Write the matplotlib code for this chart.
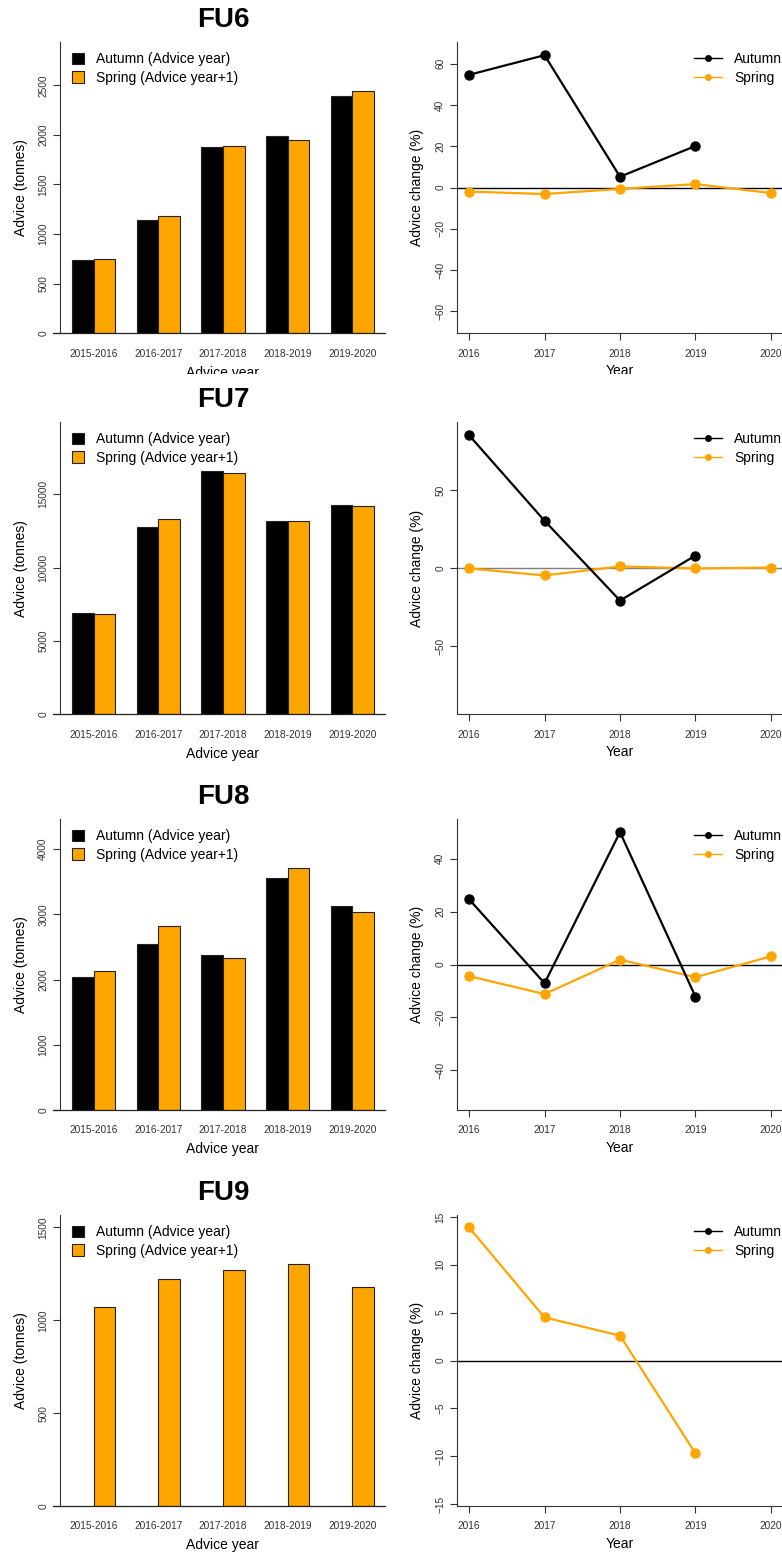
"""Advice by functional unit: autumn vs spring advice and percent change."""

import numpy as np
import matplotlib
matplotlib.use("Agg")
import matplotlib.pyplot as plt
from matplotlib.patches import Patch, Rectangle
from matplotlib.lines import Line2D

plt.rcParams["font.family"] = ["Liberation Sans", "DejaVu Sans"]

ORANGE = "#FFA500"
nan = np.nan

advice_years = ["2015-2016", "2016-2017", "2017-2018", "2018-2019", "2019-2020"]
change_years = [2016, 2017, 2018, 2019, 2020]
units = ["FU6", "FU7", "FU8", "FU9"]

fu6_autumn = [735, 1144, 1883, 1990, 2390]
fu6_spring = [751, 1181, 1886, 1950, 2447]
fu6_autumn_chg = [54.7, 64.2, 5.3, 20.2, nan]
fu6_spring_chg = [-1.9, -3.1, -0.6, 1.7, -2.6]

fu7_autumn = [6880, 12760, 16594, 13168, 14258]
fu7_spring = [6812, 13283, 16417, 13150, 14190]
fu7_autumn_chg = [85.3, 30.4, -20.8, 8.1, nan]
fu7_spring_chg = [-0.2, -4.7, 1.1, -0.2, 0.4]

fu8_autumn = [2038, 2539, 2371, 3561, 3132]
fu8_spring = [2125, 2820, 2330, 3719, 3035]
fu8_autumn_chg = [24.7, -7.1, 50.1, -12.2, nan]
fu8_spring_chg = [-4.4, -11.2, 1.8, -4.8, 3.1]

fu9_autumn = [nan, nan, nan, nan, nan]
fu9_spring = [1071, 1221, 1273, 1306, 1178]
fu9_autumn_chg = [nan, nan, nan, nan, nan]
fu9_spring_chg = [13.9, 4.5, 2.6, -9.7, nan]

bar_ticks = [500, 5000, 1000, 500]
chg_lim = [70.6, 93.8, 55.1, 15.2]
chg_ticks = [20, 50, 20, 5]
zero_color = ["black", "#808080", "black", "black"]

panels = [
    (fu6_autumn, fu6_spring, fu6_autumn_chg, fu6_spring_chg),
    (fu7_autumn, fu7_spring, fu7_autumn_chg, fu7_spring_chg),
    (fu8_autumn, fu8_spring, fu8_autumn_chg, fu8_spring_chg),
    (fu9_autumn, fu9_spring, fu9_autumn_chg, fu9_spring_chg),
]

# pixel layout of the stacked panels
W, H = 782, 1555
row_top = [42, 422, 819, 1215]
row_bot = [333.3, 714.3, 1110, 1506]

fig = plt.figure(figsize=(W / 100, H / 100), dpi=100)


def px_axes(x0, y0, x1, y1):
    return fig.add_axes([x0 / W, 1 - y1 / H, (x1 - x0) / W, (y1 - y0) / H])


def style_axis(ax):
    for side in ["top", "right"]:
        ax.spines[side].set_visible(False)
    for side in ["left", "bottom"]:
        ax.spines[side].set_linewidth(0.8)
        ax.spines[side].set_color("#333333")
    ax.tick_params(axis="both", labelsize=7.3, colors="#333333", width=0.8, length=5)
    ax.tick_params(axis="y", labelrotation=90)
    for lab in ax.get_yticklabels():
        lab.set_va("center")


for i, (unit, (autumn, spring, autumn_chg, spring_chg)) in enumerate(zip(units, panels)):
    top, bot = row_top[i], row_bot[i]

    # bar chart
    ax = px_axes(60, top, 386, bot)
    x = np.arange(len(advice_years)) * 3
    ax.bar(x + 1.5, autumn, width=1, color="black", edgecolor="#222222", linewidth=0.8)
    ax.bar(x + 2.5, spring, width=1, color=ORANGE, edgecolor="#222222", linewidth=0.8)
    ax.set_xlim(0.44, 15.56)
    top_val = np.nanmax(np.concatenate([autumn, spring])) * 1.2
    ax.set_ylim(0, top_val)
    ax.set_yticks(np.arange(0, top_val, bar_ticks[i]))
    ax.set_xticks(x + 2)
    ax.set_xticklabels(advice_years)
    style_axis(ax)
    ax.tick_params(axis="x", length=0, pad=11)
    ax.spines["bottom"].set_visible(False)
    ax.axhline(0, xmin=-7 / 326, xmax=325 / 326, color="#222222", linewidth=0.9, clip_on=False)
    ax.set_ylabel("Advice (tonnes)", fontsize=10, labelpad=7)
    ax.set_xlabel("Advice year", fontsize=10, labelpad=5)
    ax.legend(
        handles=[
            Patch(facecolor="black", edgecolor="#222222", linewidth=0.8, label="Autumn (Advice year)"),
            Patch(facecolor=ORANGE, edgecolor="#222222", linewidth=0.8, label="Spring (Advice year+1)"),
        ],
        loc="upper left", bbox_to_anchor=(0.02, 0.985), frameon=False, fontsize=10,
        handlelength=0.85, handleheight=0.85, handletextpad=0.9, labelspacing=0.35,
        borderaxespad=0,
    )
    fig.text(223 / W, 1 - (top - 22) / H, unit, fontsize=20, fontweight="bold",
             ha="center", va="center")

    # change chart
    ax2 = px_axes(457, top, 783, bot)
    ax2.axhline(0, color=zero_color[i], linewidth=1.0, zorder=1)
    ax2.plot(change_years, autumn_chg, color="black", linewidth=1.6, marker="o",
             markersize=6.5, zorder=3)
    ax2.plot(change_years, spring_chg, color=ORANGE, linewidth=1.6, marker="o",
             markersize=6.5, zorder=2)
    ax2.set_xlim(2015.84, 2020.16)
    lim = chg_lim[i]
    ax2.set_ylim(-lim, lim)
    step = chg_ticks[i]
    n = int(lim // step)
    ax2.set_yticks(np.arange(-n, n + 1) * step)
    ax2.set_xticks(change_years)
    style_axis(ax2)
    ax2.tick_params(axis="x", pad=6)
    ax2.set_ylabel("Advice change (%)", fontsize=10, labelpad=8)
    ax2.set_xlabel("Year", fontsize=10, labelpad=4)
    ax2.legend(
        handles=[
            Line2D([], [], color="black", linewidth=1, marker="o", markersize=4, label="Autumn"),
            Line2D([], [], color=ORANGE, linewidth=1, marker="o", markersize=4, label="Spring"),
        ],
        loc="upper left", bbox_to_anchor=(0.71, 0.985), frameon=False, fontsize=10,
        handlelength=2.0, handletextpad=0.9, labelspacing=0.35, borderaxespad=0,
    )

# the top row of the source image is cropped just below its axis labels
fig.patches.append(Rectangle((0, 1 - 386 / H), 1, 12 / H, transform=fig.transFigure,
                             facecolor="white", edgecolor="none", zorder=5))

fig.savefig("out.png", dpi=100)
